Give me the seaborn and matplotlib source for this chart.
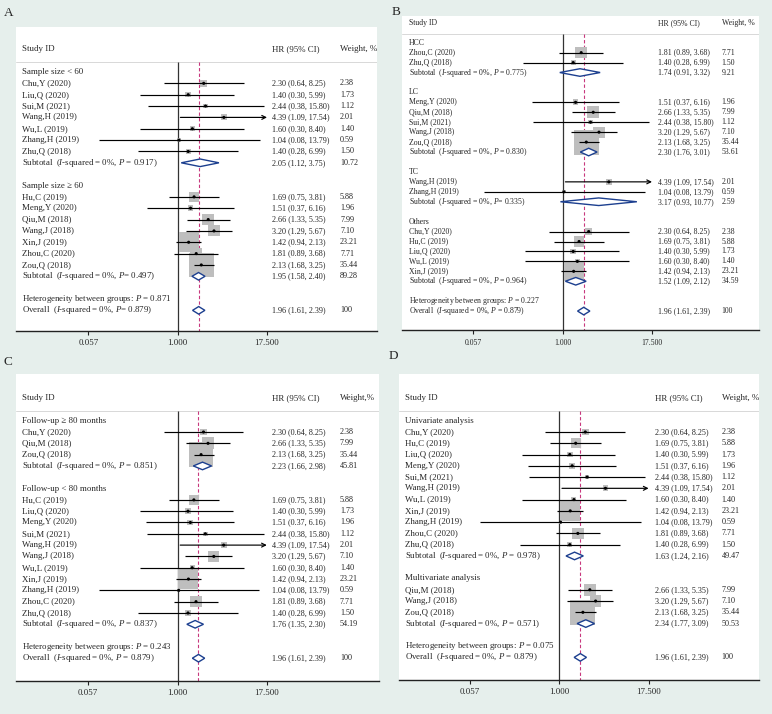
import numpy as np
import pandas as pd
import matplotlib.pyplot as plt
import seaborn as sns
from matplotlib.ticker import NullLocator
from matplotlib.transforms import blended_transform_factory

# study level results: HR, 95% CI and weight (%)
studies = ["Chu,Y (2020)", "Hu,C (2019)", "Liu,Q (2020)", "Meng,Y (2020)", "Qiu,M (2018)",
           "Sui,M (2021)", "Wang,H (2019)", "Wang,J (2018)", "Wu,L (2019)", "Xin,J (2019)",
           "Zhang,H (2019)", "Zhou,C (2020)", "Zhu,Q (2018)", "Zou,Q (2018)"]
hr = [2.30, 1.69, 1.40, 1.51, 2.66, 2.44, 4.39, 3.20, 1.60, 1.42, 1.04, 1.81, 1.40, 2.13]
ci_low = [0.64, 0.75, 0.30, 0.37, 1.33, 0.38, 1.09, 1.29, 0.30, 0.94, 0.08, 0.89, 0.28, 1.68]
ci_high = [8.25, 3.81, 5.99, 6.16, 5.35, 15.80, 17.54, 5.67, 8.40, 2.13, 13.79, 3.68, 6.99, 3.25]
weight = [2.38, 5.88, 1.73, 1.96, 7.99, 1.12, 2.01, 7.10, 1.40, 23.21, 0.59, 7.71, 1.50, 35.44]

overall = [1.96, 1.61, 2.39]
tick_values = [0.057, 1.0, 17.5]
tick_labels = ["0.057", "1.000", "17.500"]

# A: sample size
a_groups = ["Sample size < 60", "Sample size \u2265 60"]
a_members = [["Chu,Y (2020)", "Liu,Q (2020)", "Sui,M (2021)", "Wang,H (2019)", "Wu,L (2019)",
              "Zhang,H (2019)", "Zhu,Q (2018)"],
             ["Hu,C (2019)", "Meng,Y (2020)", "Qiu,M (2018)", "Wang,J (2018)", "Xin,J (2019)",
              "Zhou,C (2020)", "Zou,Q (2018)"]]
a_sub = [[2.05, 1.12, 3.75, 10.72], [1.95, 1.58, 2.40, 89.28]]
a_sub_p = [" = 0.917", "= 0.497"]
a_het_p = "0.871"
a_all_p = "= 0.879"

# B: tumour type
b_groups = ["HCC", "LC", "TC", "Others"]
b_members = [["Zhou,C (2020)", "Zhu,Q (2018)"],
             ["Meng,Y (2020)", "Qiu,M (2018)", "Sui,M (2021)", "Wang,J (2018)", "Zou,Q (2018)"],
             ["Wang,H (2019)", "Zhang,H (2019)"],
             ["Chu,Y (2020)", "Hu,C (2019)", "Liu,Q (2020)", "Wu,L (2019)", "Xin,J (2019)"]]
b_sub = [[1.74, 0.91, 3.32, 9.21], [2.30, 1.76, 3.01, 53.61],
         [3.17, 0.93, 10.77, 2.59], [1.52, 1.09, 2.12, 34.59]]
b_sub_p = [" = 0.775", " = 0.830", "= 0.335", " = 0.964"]
b_het_p = "0.227"
b_all_p = " = 0.879"

# C: follow-up
c_groups = ["Follow-up \u2265 80 months", "Follow-up < 80 months"]
c_members = [["Chu,Y (2020)", "Qiu,M (2018)", "Zou,Q (2018)"],
             ["Hu,C (2019)", "Liu,Q (2020)", "Meng,Y (2020)", "Sui,M (2021)", "Wang,H (2019)",
              "Wang,J (2018)", "Wu,L (2019)", "Xin,J (2019)", "Zhang,H (2019)", "Zhou,C (2020)",
              "Zhu,Q (2018)"]]
c_sub = [[2.23, 1.66, 2.98, 45.81], [1.76, 1.35, 2.30, 54.19]]
c_sub_p = [" = 0.851", " = 0.837"]
c_het_p = "0.243"
c_all_p = " = 0.879"

# D: analysis type
d_groups = ["Univariate analysis", "Multivariate analysis"]
d_members = [["Chu,Y (2020)", "Hu,C (2019)", "Liu,Q (2020)", "Meng,Y (2020)", "Sui,M (2021)",
              "Wang,H (2019)", "Wu,L (2019)", "Xin,J (2019)", "Zhang,H (2019)", "Zhou,C (2020)",
              "Zhu,Q (2018)"],
             ["Qiu,M (2018)", "Wang,J (2018)", "Zou,Q (2018)"]]
d_sub = [[1.63, 1.24, 2.16, 49.47], [2.34, 1.77, 3.09, 50.53]]
d_sub_p = [" = 0.978", " = 0.571"]
d_het_p = "0.075"
d_all_p = " = 0.879"

sns.set_style("white")
plt.rcParams['font.family'] = ['Liberation Serif', 'DejaVu Serif']
plt.rcParams['mathtext.fontset'] = 'custom'
plt.rcParams['mathtext.rm'] = 'Liberation Serif'
plt.rcParams['mathtext.it'] = 'Liberation Serif:italic'

FW, FH = 772, 714
BG = '#e6efec'
FS = 6.4      # labels
FS_NUM = 5.9  # numeric columns
K = 31.2  # pixels per log unit
NAVY = '#1c3f8f'
fig = plt.figure(figsize=(FW / 100, FH / 100), dpi=100, facecolor=BG)


def diamond(ax, est, lo, hi, r, h):
    ax.fill([lo, est, hi, est, lo], [r, r - h, r, r + h, r], facecolor='white',
            edgecolor=NAVY, lw=1.0, zorder=6)


def panel(letter, lpos, box, null_px, y0, step, groups, members, subs, sub_p, het_p, all_p,
          offs, weight_head, scale=1.0, num_scale=1.0):
    left, top, right, bottom = box
    W = right - left
    ax = fig.add_axes([left / FW, 1 - bottom / FH, W / FW, (bottom - top) / FH])
    ax.set_facecolor('white')
    tr = blended_transform_factory(ax.transAxes, ax.transData)
    x_lab, x_hr, x_w = [o / W for o in offs]
    txt = dict(fontsize=FS * scale, va='center', transform=tr)
    num = dict(fontsize=FS_NUM * num_scale, va='center', transform=tr)
    h = 3.8 / step

    rows = []
    r = 0
    for g, mem, sub, p in zip(groups, members, subs, sub_p):
        ax.text(x_lab, r, g, **txt)
        r += 1
        for name in mem:
            i = studies.index(name)
            rows.append(dict(hr=hr[i], lo=ci_low[i], hi=ci_high[i], w=weight[i], row=r))
            ax.text(x_lab, r, name, **txt)
            ax.text(x_hr, r, f"{hr[i]:.2f} ({ci_low[i]:.2f}, {ci_high[i]:.2f})", **num)
            ax.text(x_w, r, f"{weight[i]:.2f}", **num)
            r += 1
        diamond(ax, sub[0], sub[1], sub[2], r, h)
        ax.text(x_lab, r, f"Subtotal  ($I$-squared = 0%, $P${p})", **txt)
        ax.text(x_hr, r, f"{sub[0]:.2f} ({sub[1]:.2f}, {sub[2]:.2f})", **num)
        ax.text(x_w, r, f"{sub[3]:.2f}", **num)
        r += 2
    ax.text(x_lab, r, f"Heterogeneity between groups: $P$ = {het_p}", **txt)
    r += 1
    diamond(ax, overall[0], overall[1], overall[2], r, h)
    ax.text(x_lab, r, f"Overall  ($I$-squared = 0%, $P${all_p})", **txt)
    ax.text(x_hr, r, f"{overall[0]:.2f} ({overall[1]:.2f}, {overall[2]:.2f})", **num)
    ax.text(x_w, r, "100", **num)

    # header
    ax.text(x_lab, -2, "Study ID", **txt)
    ax.text(x_hr, -2, "HR (95% CI)", **txt)
    ax.text(x_w, -2, weight_head, **txt)

    df = pd.DataFrame(rows)
    # weight boxes (area proportional to weight) and point estimates
    sns.scatterplot(data=df, x='hr', y='row', size='w', sizes=(0, 900), size_norm=(0, 100),
                    marker='s', color='#bebebe', edgecolor='none', legend=False, ax=ax, zorder=3)
    sns.scatterplot(data=df, x='hr', y='row', marker='o', color='black', s=5, edgecolor='none',
                    legend=False, ax=ax, zorder=5)

    ax.set_xscale('log')
    xmin, xmax = np.exp((left - null_px) / K), np.exp((right - null_px) / K)
    ax.set_xlim(xmin, xmax)
    y_bot, y_top = (bottom - y0) / step, (top - y0) / step
    ax.set_ylim(y_bot, y_top)

    # confidence intervals, clipped to the axis range with an arrow
    for _, d in df.iterrows():
        hi_c = min(d['hi'], tick_values[-1])
        if d['hi'] > tick_values[-1]:
            ax.annotate("", xy=(hi_c, d['row']), xytext=(d['lo'], d['row']),
                        arrowprops=dict(arrowstyle='->', lw=0.85, color='black',
                                        shrinkA=0, shrinkB=0, mutation_scale=7), zorder=4)
        else:
            ax.hlines(d['row'], d['lo'], hi_c, color='black', lw=0.85, zorder=4)

    sep = -0.85
    ax.axhline(sep, color='#d8d8d8', lw=0.7, zorder=1)
    ax.vlines(1.0, sep, y_bot, color='#333333', lw=0.9, zorder=2)
    ax.vlines(overall[0], sep, y_bot, color='#c8387e', lw=0.8, linestyles=(0, (3, 2)), zorder=2)

    ax.set_xticks(tick_values)
    ax.set_xticklabels(tick_labels)
    ax.xaxis.set_minor_locator(NullLocator())
    ax.set_yticks([])
    ax.set_xlabel('')
    ax.set_ylabel('')
    for s in ['top', 'right', 'left']:
        ax.spines[s].set_visible(False)
    ax.spines['bottom'].set_color('#222222')
    ax.spines['bottom'].set_linewidth(1.0)
    ax.tick_params(axis='x', direction='out', length=3, width=0.8, pad=3,
                   labelsize=FS * scale, color='#222222', bottom=True)
    fig.text(lpos[0] / FW, 1 - lpos[1] / FH, letter, fontsize=9.5, va='center', ha='left')
    return ax


panel("A", (3.5, 12.5), (16, 26.7, 377.3, 330.7), 177.7, 72, 11.35,
      a_groups, a_members, a_sub, a_sub_p, a_het_p, a_all_p, (6, 256, 324), "Weight, %")
panel("B", (391.7, 11.7), (401.7, 16, 759, 330.3), 562.7, 42.7, 9.94,
      b_groups, b_members, b_sub, b_sub_p, b_het_p, b_all_p, (7, 256, 320), "Weight, %",
      scale=0.87, num_scale=0.95)
panel("C", (3.3, 362), (16, 374.3, 379.3, 680.7), 177.5, 420.7, 11.31,
      c_groups, c_members, c_sub, c_sub_p, c_het_p, c_all_p, (6, 256, 324), "Weight,%")
panel("D", (389, 356), (398.7, 374.3, 759, 680), 559.3, 420.7, 11.27,
      d_groups, d_members, d_sub, d_sub_p, d_het_p, d_all_p, (6, 256, 323), "Weight, %")

fig.savefig("out.png", dpi=100, facecolor=BG)
